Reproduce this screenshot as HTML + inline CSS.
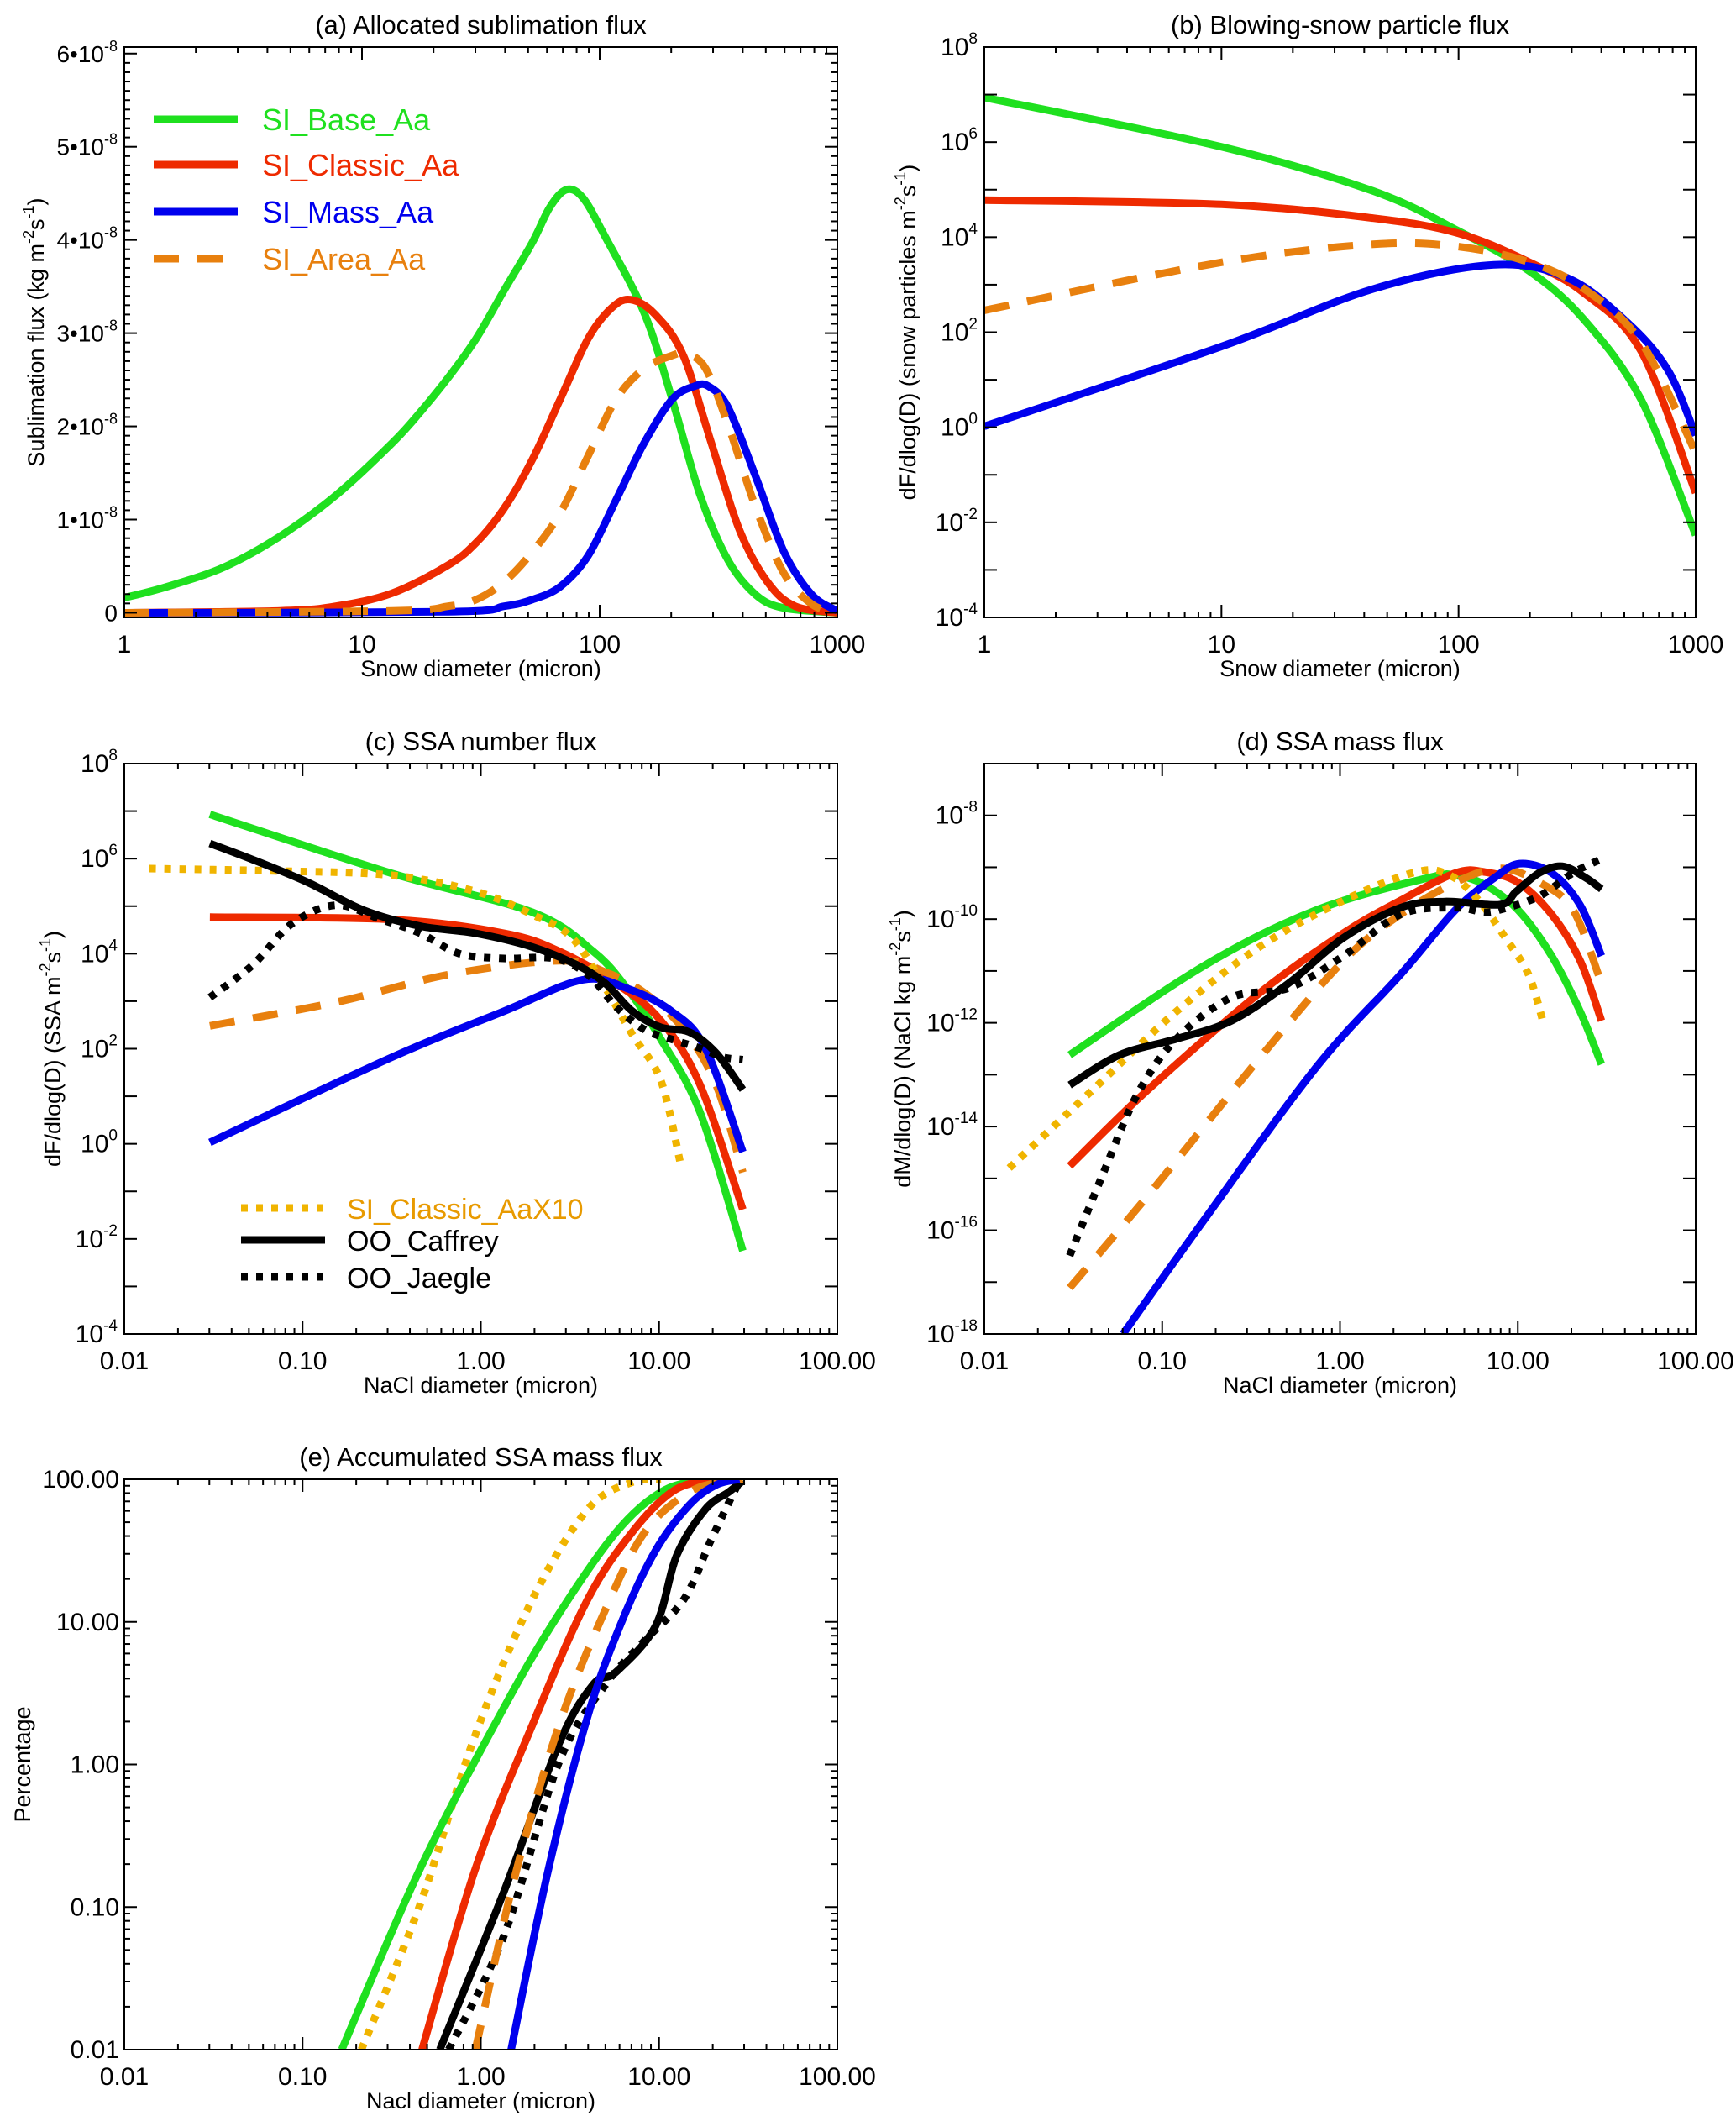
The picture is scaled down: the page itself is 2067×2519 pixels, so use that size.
<!DOCTYPE html>
<html><head><meta charset="utf-8">
<style>
html,body{margin:0;padding:0;background:#fff;}
svg{display:block;font-family:"Liberation Sans",Arial,sans-serif;}
</style></head>
<body>
<svg id="chart" width="2067" height="2519" viewBox="0 0 2067 2519" xmlns="http://www.w3.org/2000/svg"></svg>
<script>
// ---------- Panel (a): sublimation flux (units 1e-8), x in log10(micron) ----------
const aGreenX=[0,0.18,0.42,0.655,0.89,1.127,1.244,1.362,1.48,1.598,1.716,1.79,1.86,1.93,2.02,2.187,2.305,2.423,2.541,2.658,2.776,3];
const aGreenY=[0.16,0.28,0.49,0.82,1.26,1.82,2.15,2.52,2.94,3.46,3.97,4.35,4.54,4.45,4.05,3.22,2.29,1.26,0.56,0.19,0.05,0];
const aRedX=[0,0.655,0.89,1.127,1.362,1.48,1.598,1.716,1.834,1.951,2.05,2.13,2.234,2.352,2.47,2.588,2.706,2.823,3];
const aRedY=[0,0.02,0.07,0.21,0.51,0.75,1.12,1.64,2.29,2.94,3.27,3.36,3.2,2.76,1.82,0.89,0.33,0.07,0];
const aOrangeX=[0,1.127,1.362,1.48,1.598,1.716,1.834,1.951,2.069,2.187,2.305,2.364,2.446,2.541,2.658,2.776,2.894,3];
const aOrangeY=[0,0.02,0.07,0.14,0.33,0.65,1.07,1.68,2.29,2.62,2.76,2.78,2.62,2.01,1.12,0.42,0.09,0];
const aBlueX=[0,1.362,1.598,1.716,1.834,1.951,2.069,2.187,2.305,2.399,2.458,2.541,2.658,2.776,2.894,3];
const aBlueY=[0,0.01,0.07,0.14,0.28,0.61,1.21,1.82,2.29,2.43,2.43,2.2,1.45,0.65,0.19,0.02];
const aYTicks=[0,1,2,3,4,5,6];
// ---------- Panel (b): blowing snow particle flux (log10) ----------
const bX=[0,1,1.64,2,2.3,2.53,2.77,3];
const bGreen=[6.94,5.9,4.97,4.13,3.28,2.26,0.58,-2.27];
const bRed=[4.78,4.69,4.4,4.08,3.47,2.82,1.6,-1.38];
const bOrange=[2.46,3.47,3.85,3.8,3.47,2.91,1.79,-0.54];
const bBlueX=[0,1,1.64,2.15,2.46,2.7,2.88,3];
const bBlue=[0.02,1.7,2.91,3.42,3.14,2.26,1.23,-0.17];
// ---------- Panel (c): SSA number flux ----------
const cGreenX=[-1.52,-0.5,0.29,0.63,0.82,1.01,1.23,1.47];
const cGreenY=[6.93,5.69,4.87,4.05,3.27,2.2,0.66,-2.25];
const cRedX=[-1.52,-0.5,0.13,0.44,0.76,1.01,1.23,1.47];
const cRedY=[4.77,4.72,4.43,4.05,3.37,2.59,1.24,-1.38];
const cOrangeX=[-1.52,-0.81,-0.18,0.44,0.7,0.92,1.14,1.32,1.47];
const cOrangeY=[2.48,2.98,3.56,3.85,3.61,3.17,2.4,1.24,-0.6];
const cBlueX=[-1.52,-0.5,0.13,0.57,0.82,1.07,1.26,1.47];
const cBlueY=[0.03,1.82,2.79,3.45,3.27,2.79,2.01,-0.17];
const cYellowX=[-1.86,-1.13,-0.5,-0.03,0.29,0.51,0.7,0.85,1.01,1.12];
const cYellowY=[5.79,5.74,5.65,5.31,4.82,4.34,3.27,2.3,1.33,-0.41];
const cCaffX=[-1.52,-1.28,-0.97,-0.66,-0.34,-0.03,0.29,0.54,0.7,0.85,1.01,1.17,1.32,1.47];
const cCaffY=[6.32,5.98,5.5,4.92,4.58,4.43,4.14,3.76,3.37,2.79,2.45,2.35,1.91,1.14];
const cJaegX=[-1.52,-1.28,-1.06,-0.81,-0.56,-0.34,-0.12,0.13,0.41,0.6,0.76,0.92,1.07,1.23,1.36,1.47];
const cJaegY=[3.08,3.76,4.63,5.02,4.72,4.43,4.0,3.9,3.9,3.56,2.88,2.4,2.2,2.01,1.82,1.77];
// ---------- Panel (d): SSA mass flux ----------
const dGreenX=[-1.52,-0.76,-0.13,0.5,0.65,0.81,1.0,1.19,1.35,1.47];
const dGreenY=[-12.62,-10.89,-9.82,-9.2,-9.16,-9.33,-9.82,-10.71,-11.78,-12.8];
const dRedX=[-1.52,-1.08,-0.45,0.02,0.34,0.65,0.81,1.0,1.19,1.35,1.47];
const dRedY=[-14.76,-13.29,-11.42,-10.27,-9.64,-9.11,-9.09,-9.29,-9.91,-10.8,-11.96];
const dOrangeX=[-1.52,-1.08,-0.45,0.02,0.34,0.65,0.9,1.12,1.31,1.47];
const dOrangeY=[-17.11,-15.33,-12.67,-10.8,-9.91,-9.29,-9.02,-9.29,-9.82,-11.24];
const dBlueX=[-1.22,-0.76,-0.13,0.34,0.65,0.87,1.01,1.19,1.35,1.47];
const dBlueY=[-18.0,-15.78,-12.84,-11.07,-9.82,-9.2,-8.93,-9.11,-9.73,-10.71];
const dYellowX=[-1.86,-1.39,-0.92,-0.45,0.02,0.43,0.62,0.78,0.93,1.06,1.14];
const dYellowY=[-14.8,-13.29,-11.78,-10.53,-9.64,-9.09,-9.16,-9.64,-10.36,-11.07,-11.96];
const dCaffX=[-1.52,-1.24,-0.92,-0.61,-0.29,0.02,0.34,0.59,0.9,0.99,1.12,1.25,1.38,1.47];
const dCaffY=[-13.2,-12.62,-12.31,-11.96,-11.24,-10.36,-9.78,-9.66,-9.72,-9.47,-9.11,-8.98,-9.2,-9.42];
const dJaegX=[-1.52,-1.33,-1.14,-0.92,-0.61,-0.29,0.02,0.34,0.65,0.81,0.9,1.12,1.31,1.47];
const dJaegY=[-16.49,-14.89,-13.38,-12.31,-11.51,-11.33,-10.71,-9.91,-9.78,-9.87,-9.82,-9.56,-9.11,-8.84];
// ---------- Panel (e): accumulated SSA mass flux ----------
const eGreenX=[-0.78,-0.34,0.13,0.44,0.76,1.01,1.23,1.45];
const eGreenY=[-2,-0.73,0.4,1.06,1.63,1.91,1.99,2.0];
const eYellowX=[-0.67,-0.34,-0.03,0.29,0.6,0.85,1.01];
const eYellowY=[-2,-0.98,0.21,1.16,1.79,1.98,2.0];
const eRedX=[-0.33,-0.03,0.29,0.6,0.85,1.07,1.26,1.45];
const eRedY=[-2,-0.73,0.28,1.16,1.63,1.91,1.99,2.0];
const eCaffX=[-0.23,0.13,0.44,0.63,0.76,0.98,1.1,1.26,1.39,1.47];
const eCaffY=[-2,-0.89,0.15,0.56,0.65,0.97,1.47,1.79,1.91,1.99];
const eJaegX=[-0.18,0.13,0.44,0.7,0.92,1.14,1.29,1.42,1.45];
const eJaegY=[-2,-1.2,0.02,0.56,0.87,1.16,1.57,1.91,1.97];
const eOrangeX=[-0.03,0.19,0.44,0.7,0.92,1.17,1.39,1.47];
const eOrangeY=[-2,-0.79,0.28,1.09,1.63,1.91,1.99,2.0];
const eBlueX=[0.17,0.38,0.6,0.79,0.98,1.17,1.32,1.45];
const eBlueY=[-2,-0.73,0.34,1.0,1.5,1.82,1.96,2.0];

const NS="http://www.w3.org/2000/svg";
const svg=document.getElementById('chart');
function mk(tag,attrs,parent){const e=document.createElementNS(NS,tag);for(const k in attrs)e.setAttribute(k,attrs[k]);(parent||svg).appendChild(e);return e;}
const COL={green:'#1fe01f',red:'#ee2a00',blue:'#0000ee',orange:'#e8800e',yellow:'#f0b400',black:'#000'};
const STY={solid:null,dash:'30,22',dot:'8,10'};

function smoothPath(pts){
  let d='M'+pts[0][0].toFixed(1)+','+pts[0][1].toFixed(1);
  for(let i=0;i<pts.length-1;i++){
    const p0=pts[i-1]||pts[i],p1=pts[i],p2=pts[i+1],p3=pts[i+2]||p2;
    const c1=[p1[0]+(p2[0]-p0[0])/6,p1[1]+(p2[1]-p0[1])/6];
    const c2=[p2[0]-(p3[0]-p1[0])/6,p2[1]-(p3[1]-p1[1])/6];
    d+=' C'+c1[0].toFixed(1)+','+c1[1].toFixed(1)+' '+c2[0].toFixed(1)+','+c2[1].toFixed(1)+' '+p2[0].toFixed(1)+','+p2[1].toFixed(1);
  }
  return d;
}

function panel(o){
  const g=mk('g',{});
  
  
  const L=o.x0,R=o.x1,T=o.y0,B=o.y1;
  const sx=v=>L+(v-o.xmin)/(o.xmax-o.xmin)*(R-L);
  const sy=v=>B-(v-o.ymin)/(o.ymax-o.ymin)*(B-T);
  const clipId='clip-'+o.name;
  const cp=mk('clipPath',{id:clipId},g);mk('rect',{x:L,y:T,width:R-L,height:B-T},cp);
  o.series.forEach(s=>{
    const pts=s.x.map((xv,i)=>[sx(xv),sy(s.y[i])]);
    const p=mk('path',{d:smoothPath(pts),fill:'none',stroke:COL[s.c],'stroke-width':9,'clip-path':'url(#'+clipId+')','stroke-linejoin':'round'},g);
    if(STY[s.st])p.setAttribute('stroke-dasharray',STY[s.st]);
    
    
  });
  const fr=mk('rect',{x:L,y:T,width:R-L,height:B-T,fill:'none',stroke:'#000','stroke-width':2},g);
  
  
  for(let dd=o.xmin;dd<o.xmax;dd++){
    for(let m=1;m<10;m++){
      const v=dd+Math.log10(m);const X=sx(v);const len=m===1?15:7;
      mk('line',{x1:X,y1:B,x2:X,y2:B-len,stroke:'#000','stroke-width':2},g);
      mk('line',{x1:X,y1:T,x2:X,y2:T+len,stroke:'#000','stroke-width':2},g);
    }
  }
  o.xlabels.forEach((lab,i)=>{
    const t=mk('text',{x:sx(o.xmin+i),y:B+42,'text-anchor':'middle','font-size':30},g);t.textContent=lab;
    
    
  });
  o.yticks(g,L,R,sy);
  const tt=mk('text',{x:(L+R)/2,y:T-16,'text-anchor':'middle','font-size':31},g);tt.textContent=o.title;
  
  
  const xt=mk('text',{x:(L+R)/2,y:B+70,'text-anchor':'middle','font-size':27},g);xt.textContent=o.xtitle;
  
  
  const yt=mk('text',{x:0,y:0,'text-anchor':'middle','font-size':27,transform:'translate('+o.ytx+','+((T+B)/2)+') rotate(-90)'},g);
  yt.innerHTML=o.ytitle;
  
  
  return o;
}
function yTicksLog(ymin,ymax,labelEvery,minorLog){
  return function(g,L,R,sy){
    for(let d=ymin;d<=ymax;d++){
      const Y=sy(d);
      mk('line',{x1:L,y1:Y,x2:L+15,y2:Y,stroke:'#000','stroke-width':2},g);
      mk('line',{x1:R,y1:Y,x2:R-15,y2:Y,stroke:'#000','stroke-width':2},g);
      if(minorLog&&d<ymax){for(let m=2;m<10;m++){const y2=sy(d+Math.log10(m));
        mk('line',{x1:L,y1:y2,x2:L+7,y2:y2,stroke:'#000','stroke-width':2},g);
        mk('line',{x1:R,y1:y2,x2:R-7,y2:y2,stroke:'#000','stroke-width':2},g);}}
      if((d-ymin)%labelEvery===0 && labelEvery>0 && !minorLog){
        const t=mk('text',{x:L-8,y:Y+10,'text-anchor':'end','font-size':30},g);
        t.innerHTML='10<tspan dy="-14" font-size="19">'+d+'</tspan>';
        
        
      }
    }
  };
}

panel({name:'panel-a',x0:148,x1:997,y0:56,y1:735,xmin:0,xmax:3,ymin:-0.05,ymax:6.07,
  title:'(a) Allocated sublimation flux',xtitle:'Snow diameter (micron)',ytx:52,
  ytitle:'Sublimation flux (kg m<tspan dy="-12" font-size="18">-2</tspan><tspan dy="12">s</tspan><tspan dy="-12" font-size="18">-1</tspan><tspan dy="12">)</tspan>',
  xlabels:['1','10','100','1000'],
  yticks:function(g,L,R,sy){
    for(let i=0;i<=60;i++){const v=i/10;const Y=sy(v);const len=i%10===0?15:7;
      mk('line',{x1:L,y1:Y,x2:L+len,y2:Y,stroke:'#000','stroke-width':2},g);
      mk('line',{x1:R,y1:Y,x2:R-len,y2:Y,stroke:'#000','stroke-width':2},g);}
    aYTicks.forEach(v=>{const t=mk('text',{x:L-8,y:sy(v)+10,'text-anchor':'end','font-size':28},g);
      t.innerHTML=v===0?'0':v+'•10<tspan dy="-13" font-size="18">-8</tspan>';
      
      });
  },
  series:[
    {name:'si-base-aa-line',x:aGreenX,y:aGreenY,c:'green',st:'solid'},
    {name:'si-classic-aa-line',x:aRedX,y:aRedY,c:'red',st:'solid'},
    {name:'si-mass-aa-line',x:aBlueX,y:aBlueY,c:'blue',st:'solid'},
    {name:'si-area-aa-line',x:aOrangeX,y:aOrangeY,c:'orange',st:'dash'}]});

panel({name:'panel-b',x0:1172,x1:2019,y0:56,y1:735,xmin:0,xmax:3,ymin:-4,ymax:8,
  title:'(b) Blowing-snow particle flux',xtitle:'Snow diameter (micron)',ytx:1090,
  ytitle:'dF/dlog(D) (snow particles m<tspan dy="-12" font-size="18">-2</tspan><tspan dy="12">s</tspan><tspan dy="-12" font-size="18">-1</tspan><tspan dy="12">)</tspan>',
  xlabels:['1','10','100','1000'],yticks:yTicksLog(-4,8,2,false),
  series:[
    {name:'si-base-aa-line',x:bX,y:bGreen,c:'green',st:'solid'},
    {name:'si-classic-aa-line',x:bX,y:bRed,c:'red',st:'solid'},
    {name:'si-mass-aa-line',x:bBlueX,y:bBlue,c:'blue',st:'solid'},
    {name:'si-area-aa-line',x:bX,y:bOrange,c:'orange',st:'dash'}]});

const nacl=['0.01','0.10','1.00','10.00','100.00'];
panel({name:'panel-c',x0:148,x1:997,y0:909,y1:1588,xmin:-2,xmax:2,ymin:-4,ymax:8,
  title:'(c) SSA number flux',xtitle:'NaCl diameter (micron)',ytx:72,
  ytitle:'dF/dlog(D) (SSA m<tspan dy="-12" font-size="18">-2</tspan><tspan dy="12">s</tspan><tspan dy="-12" font-size="18">-1</tspan><tspan dy="12">)</tspan>',
  xlabels:nacl,yticks:yTicksLog(-4,8,2,false),
  series:[
    {name:'si-base-aa-line',x:cGreenX,y:cGreenY,c:'green',st:'solid'},
    {name:'si-classic-aa-line',x:cRedX,y:cRedY,c:'red',st:'solid'},
    {name:'si-area-aa-line',x:cOrangeX,y:cOrangeY,c:'orange',st:'dash'},
    {name:'si-mass-aa-line',x:cBlueX,y:cBlueY,c:'blue',st:'solid'},
    {name:'si-classic-aax10-line',x:cYellowX,y:cYellowY,c:'yellow',st:'dot'},
    {name:'oo-caffrey-line',x:cCaffX,y:cCaffY,c:'black',st:'solid'},
    {name:'oo-jaegle-line',x:cJaegX,y:cJaegY,c:'black',st:'dot'}]});

panel({name:'panel-d',x0:1172,x1:2019,y0:909,y1:1588,xmin:-2,xmax:2,ymin:-18,ymax:-7,
  title:'(d) SSA mass flux',xtitle:'NaCl diameter (micron)',ytx:1084,
  ytitle:'dM/dlog(D) (NaCl kg m<tspan dy="-12" font-size="18">-2</tspan><tspan dy="12">s</tspan><tspan dy="-12" font-size="18">-1</tspan><tspan dy="12">)</tspan>',
  xlabels:nacl,yticks:yTicksLog(-18,-7,2,false),
  series:[
    {name:'si-base-aa-line',x:dGreenX,y:dGreenY,c:'green',st:'solid'},
    {name:'si-classic-aa-line',x:dRedX,y:dRedY,c:'red',st:'solid'},
    {name:'si-area-aa-line',x:dOrangeX,y:dOrangeY,c:'orange',st:'dash'},
    {name:'si-mass-aa-line',x:dBlueX,y:dBlueY,c:'blue',st:'solid'},
    {name:'si-classic-aax10-line',x:dYellowX,y:dYellowY,c:'yellow',st:'dot'},
    {name:'oo-caffrey-line',x:dCaffX,y:dCaffY,c:'black',st:'solid'},
    {name:'oo-jaegle-line',x:dJaegX,y:dJaegY,c:'black',st:'dot'}]});

const eLabels=['0.01','0.10','1.00','10.00','100.00'];
panel({name:'panel-e',x0:148,x1:997,y0:1761,y1:2440,xmin:-2,xmax:2,ymin:-2,ymax:2,
  title:'(e) Accumulated SSA mass flux',xtitle:'Nacl diameter (micron)',ytx:36,
  ytitle:'Percentage',xlabels:nacl,
  yticks:function(g,L,R,sy){
    yTicksLog(-2,2,1,true)(g,L,R,sy);
    eLabels.forEach((lab,i)=>{const t=mk('text',{x:L-6,y:sy(-2+i)+10,'text-anchor':'end','font-size':30},g);t.textContent=lab;
      
      });
  },
  series:[
    {name:'si-classic-aax10-line',x:eYellowX,y:eYellowY,c:'yellow',st:'dot'},
    {name:'si-base-aa-line',x:eGreenX,y:eGreenY,c:'green',st:'solid'},
    {name:'si-classic-aa-line',x:eRedX,y:eRedY,c:'red',st:'solid'},
    {name:'oo-caffrey-line',x:eCaffX,y:eCaffY,c:'black',st:'solid'},
    {name:'oo-jaegle-line',x:eJaegX,y:eJaegY,c:'black',st:'dot'},
    {name:'si-area-aa-line',x:eOrangeX,y:eOrangeY,c:'orange',st:'dash'},
    {name:'si-mass-aa-line',x:eBlueX,y:eBlueY,c:'blue',st:'solid'}]});

function legend(items,x1,x2,tx,fs,nm){
  const g=mk('g',{});
  
  
  items.forEach(it=>{
    const ln=mk('line',{x1:x1,y1:it.y,x2:x2,y2:it.y,stroke:COL[it.c],'stroke-width':9},g);
    if(STY[it.st])ln.setAttribute('stroke-dasharray',STY[it.st]);
    const t=mk('text',{x:tx,y:it.y+13,'font-size':fs,fill:it.tc||COL[it.c]},g);t.textContent=it.t;
    
    
  });
}
legend([{y:142,c:'green',st:'solid',t:'SI_Base_Aa'},{y:196,c:'red',st:'solid',t:'SI_Classic_Aa'},
  {y:252,c:'blue',st:'solid',t:'SI_Mass_Aa'},{y:308,c:'orange',st:'dash',t:'SI_Area_Aa'}],183,283,312,36,'legend-a');
legend([{y:1438,c:'yellow',st:'dot',t:'SI_Classic_AaX10',tc:'#e89a00'},{y:1476,c:'black',st:'solid',t:'OO_Caffrey'},
  {y:1520,c:'black',st:'dot',t:'OO_Jaegle'}],287,387,413,34,'legend-c');
</script>
</body></html>
